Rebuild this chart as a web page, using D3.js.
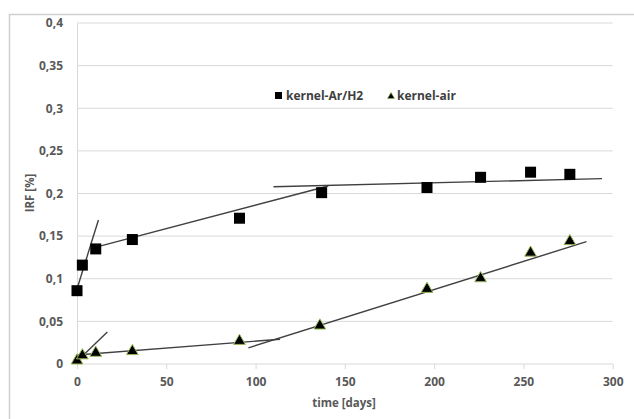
<!DOCTYPE html>
<html><head><meta charset="utf-8">
<script src="https://cdn.jsdelivr.net/npm/d3@7"></script>
<style>
html,body{margin:0;padding:0;background:#fff;}
svg{display:block;font-family:"Open Sans",sans-serif;}
</style></head>
<body>
<svg id="chart" width="634" height="419"></svg>
<script>
// ---- data ----
const arDays = [0, 3, 10.5, 31, 91, 137, 196, 226, 254, 276];
const arIRF  = [0.086, 0.116, 0.135, 0.146, 0.171, 0.201, 0.207, 0.219, 0.225, 0.2225];
const airDays = [0, 3, 10.5, 31, 91, 136, 196, 226, 254, 276];
const airIRF  = [0.004, 0.010, 0.013, 0.015, 0.027, 0.045, 0.088, 0.1005, 0.1305, 0.144];
// trend line segments [x1, y1, x2, y2]
const arTrends = [[0, 0.088, 12, 0.169], [8, 0.1357, 140.7, 0.2088], [110, 0.208, 294, 0.2174]];
const airTrends = [[2.6, 0.0086, 17, 0.0375], [0, 0.0106, 113.7, 0.029], [96, 0.019, 285.3, 0.1435]];
const xTicks = [0, 50, 100, 150, 200, 250, 300];
const yTicks = [0, 0.05, 0.1, 0.15, 0.2, 0.25, 0.3, 0.35, 0.4];
const yTickLabels = ["0", "0,05", "0,1", "0,15", "0,2", "0,25", "0,3", "0,35", "0,4"];
const seriesNames = ["kernel-Ar/H2", "kernel-air"];
const xTitle = "time [days]";
const yTitle = "IRF [%]";

// ---- drawing ----
const svg = d3.select("#chart");
const x = d3.scaleLinear().domain([0, 300]).range([77, 612.7]);
const y = d3.scaleLinear().domain([0, 0.4]).range([364, 23]);
const grid = "#d9d9d9", txt = "#595959";
const F = "Open Sans";

// outer frame
svg.append("path").attr("d", "M9.5,440 V14.5 H640").attr("fill", "none")
  .attr("stroke", "#d0d0d0").attr("stroke-width", 1.5);

// gridlines
svg.append("g").selectAll("line").data(yTicks.slice(1)).join("line")
  .attr("x1", x(0)).attr("x2", x(300)).attr("y1", d => y(d)).attr("y2", d => y(d))
  .attr("stroke", grid).attr("stroke-width", 1);

// y axis
const yAxis = d3.axisLeft(y).tickValues(yTicks).tickSize(0).tickPadding(14)
  .tickFormat((d, i) => yTickLabels[i]);
const gy = svg.append("g").attr("transform", `translate(${x(0)},0)`).call(yAxis);
gy.select(".domain").attr("stroke", grid);
gy.selectAll("text").attr("fill", txt).attr("font-size", 12).attr("font-weight", 700)
  .attr("font-family", F);

// x axis
const xAxis = d3.axisBottom(x).tickValues(xTicks).tickSize(5).tickPadding(8);
const gx = svg.append("g").attr("transform", `translate(0,${y(0)})`).call(xAxis);
gx.select(".domain").attr("stroke", grid).attr("d", `M${x(0)},0H${x(300)}`);
gx.selectAll(".tick line").attr("stroke", grid);
gx.selectAll("text").attr("fill", txt).attr("font-size", 12).attr("font-weight", 700)
  .attr("font-family", F);

// titles
svg.append("text").attr("x", 344).attr("y", 407).attr("text-anchor", "middle")
  .attr("fill", txt).attr("font-size", 11.5).attr("font-weight", 700).text(xTitle);
svg.append("text").attr("transform", "translate(34,193) rotate(-90)").attr("text-anchor", "middle")
  .attr("fill", txt).attr("font-size", 11.5).attr("font-weight", 700).text(yTitle);

// trend lines
const lineCol = "#404040";
svg.append("g").selectAll("line").data(arTrends.concat(airTrends)).join("line")
  .attr("x1", d => x(d[0])).attr("y1", d => y(d[1])).attr("x2", d => x(d[2])).attr("y2", d => y(d[3]))
  .attr("stroke", lineCol).attr("stroke-width", 1.4);

// markers
const sq = 11;
svg.append("g").selectAll("rect").data(arDays.map((d, i) => [d, arIRF[i]])).join("rect")
  .attr("x", d => x(d[0]) - sq / 2).attr("y", d => y(d[1]) - sq / 2)
  .attr("width", sq).attr("height", sq).attr("fill", "#000");
const tri = d3.symbol().type(d3.symbolTriangle).size(60);
svg.append("g").selectAll("path").data(airDays.map((d, i) => [d, airIRF[i]])).join("path")
  .attr("d", tri).attr("transform", d => `translate(${x(d[0])},${y(d[1])})`)
  .attr("fill", "#000").attr("stroke", "#9bbb59").attr("stroke-width", 1);

// legend
const lg = svg.append("g");
lg.append("rect").attr("x", 275).attr("y", 92).attr("width", 7).attr("height", 7).attr("fill", "#000");
lg.append("text").attr("x", 286).attr("y", 100).attr("fill", "#404040").attr("font-size", 12)
  .attr("font-weight", 700).text(seriesNames[0]);
lg.append("path").attr("d", d3.symbol().type(d3.symbolTriangle).size(22))
  .attr("transform", "translate(391,96.5)").attr("fill", "#000").attr("stroke", "#9bbb59").attr("stroke-width", 0.6);
lg.append("text").attr("x", 397).attr("y", 100).attr("fill", "#404040").attr("font-size", 12)
  .attr("font-weight", 700).text(seriesNames[1]);
</script>
</body></html>
